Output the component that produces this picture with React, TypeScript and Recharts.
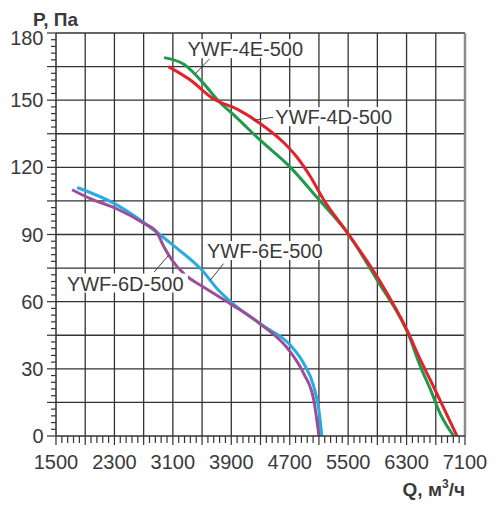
import React from 'react';
import { LineChart, Line, XAxis, YAxis, CartesianGrid, ReferenceLine, ReferenceDot, Label } from 'recharts';

// ---- data (Q, m3/h  ->  P, Pa) ----
const q4E = [2980, 3250, 3520, 3700, 3980, 4300, 4710, 5075, 5485, 5900, 6330, 6490, 6630, 6760, 6945];
const p4E = [169, 166, 157.5, 150.5, 142, 132, 120, 106.5, 91, 69.5, 45, 31, 20.5, 10, 0];

const q4D = [3040, 3340, 3660, 3980, 4300, 4620, 4800, 4980, 5165, 5485, 5900, 6310, 6490, 6670, 6990];
const p4D = [165, 159, 150.5, 146, 139.5, 131, 124.5, 116, 105.5, 91, 71, 47, 34, 22, 0];

const q6E = [1790, 2290, 2880, 3110, 3500, 3700, 3890, 4300, 4710, 4890, 5030, 5100, 5140];
const p6E = [111, 104, 91, 85, 74, 66, 60, 50, 40.5, 32.5, 22, 11.5, 0];

const q6D = [1720, 1970, 2330, 2700, 2880, 2970, 3090, 3250, 3520, 3890, 4300, 4710, 4890, 5030, 5100];
const p6D = [110, 106, 101.5, 95, 91, 85, 78.5, 72.5, 66.5, 59, 50, 37.5, 28, 16, 0];

const xLabels = [1500, 2300, 3100, 3900, 4700, 5500, 6300, 7100];
const yLabels = [0, 30, 60, 90, 120, 150, 180];

const seriesNames = ['YWF-4E-500', 'YWF-4D-500', 'YWF-6E-500', 'YWF-6D-500'];
// label anchors [Q, P] and leader segments [Q1, P1, Q2, P2]
const labelAnchors = [[3301, 172.8], [4503, 142.4], [3567, 82.6], [1649, 68.1]];
const leaders = [[3603, 168.5, 3407, 161.8], [4480, 142.4, 4205, 141], [3795, 77, 3612, 69.6], [2845, 73.3, 3041, 80.7]];

const toPts = (q: number[], p: number[]) => q.map((x, i) => ({ q: x, p: p[i] }));

const X_MIN = 1500, X_MAX = 7100, Y_MIN = 0, Y_MAX = 180;
const xMinor: number[] = [];
for (let v = X_MIN; v <= X_MAX; v += 80) xMinor.push(v);
const yMinor: number[] = [];
for (let v = Y_MIN; v <= Y_MAX; v += 3) yMinor.push(v);
const xGrid: number[] = [];
for (let v = 1900; v < X_MAX; v += 400) xGrid.push(v);
const yGrid: number[] = [];
for (let v = 15; v <= Y_MAX; v += 15) yGrid.push(v);

const FONT = 'Liberation Sans, Arial, Helvetica, sans-serif';
const TXT = '#3a3a3a';
const GRID = '#333';

const XTick = (props: any) => {
  const { x, y, payload } = props;
  const v = payload.value;
  const major = (v - X_MIN) % 400 === 0;
  return (
    <g>
      <line x1={x} x2={x} y1={y} y2={y + (major ? 9 : 7)} stroke={GRID} strokeWidth={1.2} />
      {xLabels.includes(v) && (
        <text x={x} y={y + 33} textAnchor="middle" fontSize={20} fill={TXT} fontFamily={FONT}>{v}</text>
      )}
    </g>
  );
};

const YTick = (props: any) => {
  const { x, y, payload } = props;
  const v = payload.value;
  const major = v % 15 === 0;
  const shift = v === Y_MAX ? 5 : 0;
  return (
    <g>
      <line x1={x - (major ? 9 : 5)} x2={x} y1={y} y2={y} stroke={GRID} strokeWidth={1.2} />
      {yLabels.includes(v) && (
        <text x={x - 12.5} y={y + 7 + shift} textAnchor="end" fontSize={20} fill={TXT} fontFamily={FONT}>{v}</text>
      )}
    </g>
  );
};

const makeLabelShape = (text: string) => (props: any) => {
  const { cx, cy } = props;
  const w = text.length * 11.9;
  return (
    <g>
      <rect x={cx - 2} y={cy - 10} width={w + 4} height={19} fill="#fff" />
      <text x={cx} y={cy + 7} fontSize={20} fill={TXT} fontFamily={FONT}>{text}</text>
    </g>
  );
};

const colors = ['#1e9a4a', '#e2232b', '#2aaae2', '#9c4f98'];
const series = [toPts(q4E, p4E), toPts(q4D, p4D), toPts(q6E, p6E), toPts(q6D, p6D)];

export default function App() {
  return (
    <div style={{ position: 'absolute', left: 0, top: 0, width: 497, height: 509, background: '#fff' }}>
      <LineChart width={497} height={509} margin={{ top: 33, right: 32, bottom: 0, left: 0 }}>
        <CartesianGrid
          stroke={GRID}
          strokeWidth={1.3}
          verticalValues={xGrid}
          horizontalValues={yGrid}
        />
        <XAxis
          type="number"
          dataKey="q"
          domain={[X_MIN, X_MAX]}
          ticks={xMinor}
          interval={0}
          tickSize={0}
          tickMargin={0}
          tick={<XTick />}
          height={73}
          allowDataOverflow
          axisLine={{ stroke: GRID, strokeWidth: 1.5 }}
        >
          <Label
            content={(p: any) => {
              const vb = p.viewBox;
              return (
                <text x={vb.x + vb.width} y={vb.y + 60} textAnchor="end" fontSize={19} fontWeight="bold" fill={TXT} fontFamily={FONT}>
                  Q, м<tspan fontSize={12} dy={-8}>3</tspan><tspan dy={8}>/ч</tspan>
                </text>
              );
            }}
          />
        </XAxis>
        <YAxis
          type="number"
          dataKey="p"
          domain={[Y_MIN, Y_MAX]}
          ticks={yMinor}
          interval={0}
          tickSize={0}
          tickMargin={0}
          tick={<YTick />}
          width={56}
          allowDataOverflow
          axisLine={{ stroke: GRID, strokeWidth: 1.5 }}
        >
          <Label
            content={(p: any) => {
              const vb = p.viewBox;
              return (
                <text x={vb.x + 33} y={vb.y - 7} fontSize={19} fontWeight="bold" fill={TXT} fontFamily={FONT}>
                  P, Па
                </text>
              );
            }}
          />
        </YAxis>
        <ReferenceLine x={X_MAX} stroke="#8c8c8c" strokeWidth={2.5} />
        {series.map((d, i) => (
          <Line
            key={seriesNames[i]}
            data={d}
            dataKey="p"
            type="monotone"
            stroke={colors[i]}
            strokeWidth={3}
            dot={false}
            activeDot={false}
            isAnimationActive={false}
          />
        ))}
        {leaders.map((s, i) => (
          <ReferenceLine
            key={'l' + i}
            segment={[{ x: s[0], y: s[1] }, { x: s[2], y: s[3] }]}
            stroke="#444"
            strokeWidth={1}
          />
        ))}
        {labelAnchors.map((a, i) => (
          <ReferenceDot
            key={'t' + i}
            x={a[0]}
            y={a[1]}
            r={0}
            shape={makeLabelShape(seriesNames[i])}
          />
        ))}
      </LineChart>
    </div>
  );
}
